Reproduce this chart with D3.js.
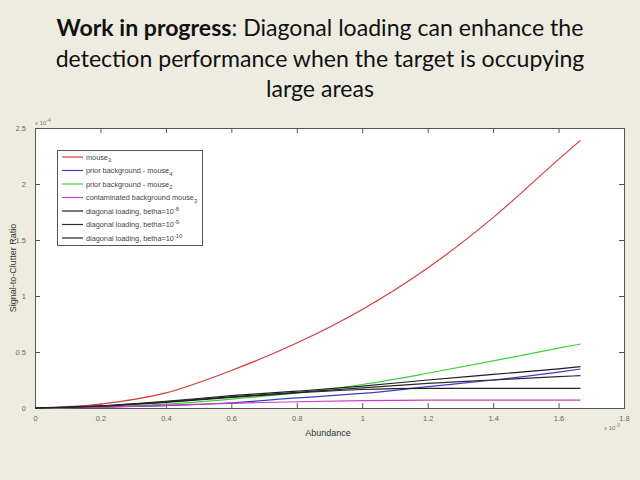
<!DOCTYPE html>
<html><head><meta charset="utf-8">
<script src="https://cdn.jsdelivr.net/npm/d3@7"></script>
<style>
html,body{margin:0;padding:0;background:#EEECE1;}
svg{display:block;}
</style></head>
<body>
<script>
// ---- data ----
const titleBold = "Work in progress";
const titleLines = [": Diagonal loading can enhance the", "detection performance when the target is occupying", "large areas"];
const xTicks = [0, 0.2, 0.4, 0.6, 0.8, 1, 1.2, 1.4, 1.6, 1.8];
const yTicks = [0, 0.5, 1, 1.5, 2, 2.5];
const abundance = [0, 0.2, 0.4, 0.6, 0.8, 1.0, 1.2, 1.4, 1.6, 1.667];
const mouse3 =        [0, 0.035, 0.135, 0.335, 0.58, 0.88, 1.25, 1.70, 2.22, 2.39];
const priorMouse4 =   [0, 0.008, 0.02, 0.047, 0.09, 0.13, 0.19, 0.25, 0.32, 0.348];
const priorMouse2 =   [0, 0.01, 0.035, 0.08, 0.135, 0.21, 0.31, 0.42, 0.535, 0.571];
const contaminated =  [0, 0.008, 0.025, 0.042, 0.056, 0.066, 0.07, 0.071, 0.071, 0.071];
const diag8 =         [0, 0.02, 0.06, 0.11, 0.15, 0.195, 0.25, 0.30, 0.35, 0.369];
const diag9 =         [0, 0.018, 0.055, 0.10, 0.14, 0.18, 0.22, 0.25, 0.28, 0.289];
const diag10 =        [0, 0.016, 0.05, 0.095, 0.135, 0.165, 0.175, 0.176, 0.176, 0.176];
const seriesNames = [
  {main:"mouse", sub:"3"},
  {main:"prior background - mouse", sub:"4"},
  {main:"prior background - mouse", sub:"2"},
  {main:"contaminated background mouse", sub:"3"},
  {main:"diagonal loading, betha=10", sup:"-8"},
  {main:"diagonal loading, betha=10", sup:"-9"},
  {main:"diagonal loading, betha=10", sup:"-10"}
];
const seriesValues = [mouse3, priorMouse4, priorMouse2, contaminated, diag8, diag9, diag10];
const seriesColors = ["#d43c3c", "#3c3ccc", "#3fd23f", "#c83cc8", "#1e1e1e", "#2a2a2a", "#222222"];

// ---- layout ----
const W = 640, H = 480;
const svg = d3.select("body").append("svg").attr("width", W).attr("height", H);
svg.append("rect").attr("width", W).attr("height", H).attr("fill", "#EEECE1");

// title
const tfont = "Lato, 'Open Sans', sans-serif";
const t1 = svg.append("text").attr("x", 320).attr("y", 36).attr("text-anchor", "middle")
  .attr("font-family", tfont).attr("font-size", 23).attr("fill", "#111");
t1.append("tspan").attr("font-weight", "bold").text(titleBold);
t1.append("tspan").text(titleLines[0]);
const t2 = svg.append("text").attr("x", 320).attr("y", 67).attr("text-anchor", "middle")
  .attr("font-family", tfont).attr("font-size", 23).attr("fill", "#111").text(titleLines[1]);
const t3 = svg.append("text").attr("x", 320).attr("y", 97).attr("text-anchor", "middle")
  .attr("font-family", tfont).attr("font-size", 23).attr("fill", "#111").text(titleLines[2]);
// fit widths
const targets = [[t1, 526], [t2, 530], [t3, 108]];
const sizes = targets.map(([t, w]) => 23 * w / t.node().getComputedTextLength());
const fs = d3.mean(sizes.slice(0, 2));
[t1, t2, t3].forEach(t => t.attr("font-size", fs));

// plot
const m = {l: 35, r: 624, t: 128, b: 408};
const x = d3.scaleLinear().domain([0, 1.8]).range([m.l, m.r]);
const y = d3.scaleLinear().domain([0, 2.5]).range([m.b, m.t]);

svg.append("rect").attr("x", m.l).attr("y", m.t).attr("width", m.r - m.l).attr("height", m.b - m.t).attr("fill", "#fff");

const tickFont = "Arial, 'Liberation Sans', sans-serif";
const ax = svg.append("g").attr("transform", `translate(0,${m.b})`)
  .call(d3.axisBottom(x).tickValues(xTicks).tickSize(-5).tickPadding(8).tickFormat(d3.format("~g")));
const axT = svg.append("g").attr("transform", `translate(0,${m.t})`)
  .call(d3.axisTop(x).tickValues(xTicks).tickSize(-5).tickFormat(""));
const ay = svg.append("g").attr("transform", `translate(${m.l},0)`)
  .call(d3.axisLeft(y).tickValues(yTicks).tickSize(-5).tickPadding(9).tickFormat(d3.format("~g")));
const ayR = svg.append("g").attr("transform", `translate(${m.r},0)`)
  .call(d3.axisRight(y).tickValues(yTicks).tickSize(-5).tickFormat(""));
[ax, axT, ay, ayR].forEach(g => {
  g.select(".domain").attr("stroke", "#555").attr("stroke-width", 1);
  g.selectAll(".tick line").attr("stroke", "#555");
  g.selectAll(".tick text").attr("font-family", tickFont).attr("font-size", 7.5).attr("fill", "#666");
});

// lines
const line = d3.line().x((d, i) => x(abundance[i])).y(d => y(d)).curve(d3.curveMonotoneX);
seriesValues.forEach((vals, i) => {
  svg.append("path").datum(vals).attr("d", line).attr("fill", "none")
    .attr("stroke", seriesColors[i]).attr("stroke-width", 1.2);
});

// axis labels
svg.append("text").attr("x", 328).attr("y", 436).attr("text-anchor", "middle")
  .attr("font-family", tickFont).attr("font-size", 9).attr("fill", "#333").text("Abundance");
svg.append("text").attr("transform", "translate(16,268) rotate(-90)").attr("text-anchor", "middle")
  .attr("font-family", tickFont).attr("font-size", 9).attr("fill", "#333").text("Signal-to-Clutter Ratio");

// multipliers
const my = svg.append("text").attr("x", 35).attr("y", 125).attr("font-family", tickFont)
  .attr("font-size", 6).attr("fill", "#777");
my.append("tspan").text("x 10");
my.append("tspan").attr("dy", -3).attr("font-size", 5).text("-4");
const mx = svg.append("text").attr("x", 604).attr("y", 430).attr("font-family", tickFont)
  .attr("font-size", 6).attr("fill", "#777");
mx.append("tspan").text("x 10");
mx.append("tspan").attr("dy", -3).attr("font-size", 5).text("-3");

// legend
const lg = svg.append("g");
lg.append("rect").attr("x", 57.5).attr("y", 150.5).attr("width", 145).attr("height", 95)
  .attr("fill", "#fff").attr("stroke", "#555").attr("stroke-width", 1);
seriesNames.forEach((s, i) => {
  const yy = 157 + i * 13.5;
  lg.append("line").attr("x1", 62).attr("x2", 83).attr("y1", yy).attr("y2", yy)
    .attr("stroke", seriesColors[i]).attr("stroke-width", 1.2);
  const tx = lg.append("text").attr("x", 86).attr("y", yy + 2.5).attr("font-family", tickFont)
    .attr("font-size", 7.3).attr("fill", "#444");
  tx.append("tspan").text(s.main);
  if (s.sub) tx.append("tspan").attr("dy", 2.5).attr("font-size", 5.8).text(s.sub);
  if (s.sup) tx.append("tspan").attr("dy", -3).attr("font-size", 5.8).text(s.sup);
});
</script>
</body></html>
